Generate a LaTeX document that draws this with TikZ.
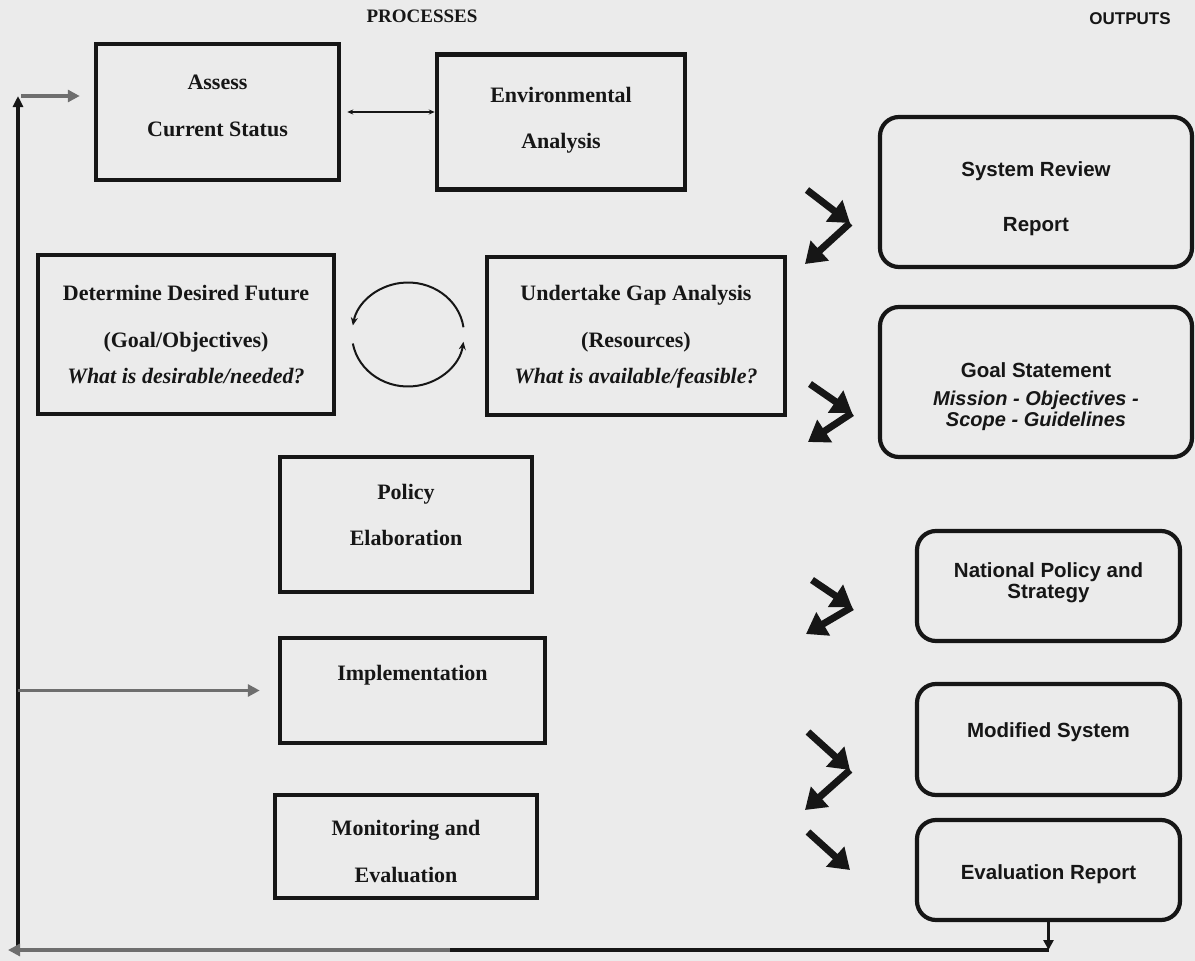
\documentclass[tikz,border=0pt]{standalone}
\usepackage{fontspec}
\setmainfont{Liberation Serif}
\setsansfont{Liberation Sans}
\usetikzlibrary{arrows.meta}

\definecolor{paper}{RGB}{235,235,235}
\definecolor{ink}{RGB}{22,22,22}
\definecolor{haze}{RGB}{110,110,110}

\begin{document}
\begin{tikzpicture}[x=1pt,y=-1pt,
  procbox/.style={draw=ink,line width=4.5pt,inner sep=0pt},
  outbox/.style={draw=ink,line width=4.2pt,rounded corners=19pt,inner sep=0pt},
  proctext/.style={inner sep=0pt,anchor=base,text=ink,font=\bfseries\fontsize{22}{26}\selectfont},
  outtext/.style={inner sep=0pt,anchor=base,text=ink,font=\sffamily\bfseries\fontsize{20.5}{24}\selectfont},
  bigarrow/.style={draw=ink,line width=7pt,-{Triangle[length=20pt,width=26pt]}},
  ringarrow/.style={draw=ink,line width=2pt,-{Stealth[length=8pt,width=7pt]}},
  loopline/.style={draw=ink,line width=3.5pt},
  greyarrow/.style={draw=haze,line width=3.5pt,-{Triangle[length=12pt,width=12pt]}}]
\path[use as bounding box,fill=paper] (0,0) rectangle (1195,961);
\node[proctext,font=\bfseries\fontsize{19}{22}\selectfont] (processes) at (422,22) {PROCESSES};
\node[outtext,font=\sffamily\bfseries\fontsize{17}{20}\selectfont] (outputs) at (1130,24) {OUTPUTS};
\node[procbox,minimum width=243pt,minimum height=136pt] (assess) at (217.5,112) {};
\node[proctext] (assess1) at (217.5,89) {Assess};
\node[proctext] (assess2) at (217.5,136) {Current Status};
\node[procbox,minimum width=248pt,minimum height=135pt] (environment) at (561,122) {};
\node[proctext] (environment1) at (561,102) {Environmental};
\node[proctext] (environment2) at (561,148) {Analysis};
\node[procbox,minimum width=296pt,minimum height=159pt] (desired) at (186,334.5) {};
\node[proctext] (desired1) at (186,300) {Determine Desired Future};
\node[proctext] (desired2) at (186,347) {(Goal/Objectives)};
\node[proctext,font=\bfseries\itshape\fontsize{22}{26}\selectfont] (desired3) at (186,383) {What is desirable/needed?};
\node[procbox,minimum width=298pt,minimum height=158pt] (gap) at (636,336) {};
\node[proctext] (gap1) at (636,300) {Undertake Gap Analysis};
\node[proctext] (gap2) at (636,347) {(Resources)};
\node[proctext,font=\bfseries\itshape\fontsize{22}{26}\selectfont] (gap3) at (636,383) {What is available/feasible?};
\node[procbox,minimum width=252pt,minimum height=135pt] (policy) at (406,524.5) {};
\node[proctext] (policy1) at (406,499) {Policy};
\node[proctext] (policy2) at (406,545) {Elaboration};
\node[procbox,minimum width=265pt,minimum height=105pt] (implement) at (412.5,690.5) {};
\node[proctext] (implement1) at (412.5,680) {Implementation};
\node[procbox,minimum width=262pt,minimum height=103pt] (monitor) at (406,846.5) {};
\node[proctext] (monitor1) at (406,835) {Monitoring and};
\node[proctext] (monitor2) at (406,882) {Evaluation};
\node[outbox,minimum width=312pt,minimum height=150pt] (review) at (1036,192) {};
\node[outtext] (review1) at (1036,176) {System Review};
\node[outtext] (review2) at (1036,231) {Report};
\node[outbox,minimum width=312pt,minimum height=150pt] (goal) at (1036,382) {};
\node[outtext] (goal1) at (1036,377) {Goal Statement};
\node[outtext,font=\sffamily\bfseries\itshape\fontsize{20}{24}\selectfont] (goal2) at (1036,405) {Mission - Objectives -};
\node[outtext,font=\sffamily\bfseries\itshape\fontsize{20}{24}\selectfont] (goal3) at (1036,426) {Scope - Guidelines};
\node[outbox,minimum width=263pt,minimum height=110pt] (national) at (1048.5,586) {};
\node[outtext] (national1) at (1048.5,577) {National Policy and};
\node[outtext] (national2) at (1048.5,598) {Strategy};
\node[outbox,minimum width=263pt,minimum height=111pt] (modified) at (1048.5,739.5) {};
\node[outtext] (modified1) at (1048.5,737) {Modified System};
\node[outbox,minimum width=263pt,minimum height=100pt] (evalreport) at (1048.5,870) {};
\node[outtext] (evalreport1) at (1048.5,879) {Evaluation Report};
\draw[ink,line width=1.5pt,{Stealth[length=6pt,width=5pt]}-{Stealth[length=6pt,width=5pt]},shorten <=6pt] (assess.east) -- (assess.east -| environment.west);
\coordinate (ringmid) at (408,334.5);
\draw[ringarrow] ([shift={(8:56pt and 52pt)}]ringmid) arc[start angle=8,end angle=170,x radius=56pt,y radius=52pt];
\draw[ringarrow] ([shift={(190:56pt and 52pt)}]ringmid) arc[start angle=190,end angle=352,x radius=56pt,y radius=52pt];
\coordinate (chevAtop) at (807,190);
\coordinate (chevAmid) at (850,223);
\coordinate (chevAend) at (805,264);
\coordinate (chevBtop) at (810,384);
\coordinate (chevBmid) at (852,413);
\coordinate (chevBend) at (808,442);
\coordinate (chevCtop) at (812,580);
\coordinate (chevCmid) at (852,607);
\coordinate (chevCend) at (806,634);
\coordinate (chevDtop) at (808,732);
\coordinate (chevDmid) at (850,770);
\coordinate (chevDend) at (805,810);
\coordinate (chevEtop) at (808,832);
\coordinate (chevEend) at (850,870);
\draw[bigarrow] (chevAtop) -- (chevAmid);
\draw[bigarrow] (chevAmid) -- (chevAend);
\draw[bigarrow] (chevBtop) -- (chevBmid);
\draw[bigarrow] (chevBmid) -- (chevBend);
\draw[bigarrow] (chevCtop) -- (chevCmid);
\draw[bigarrow] (chevCmid) -- (chevCend);
\draw[bigarrow] (chevDtop) -- (chevDmid);
\draw[bigarrow] (chevDmid) -- (chevDend);
\draw[bigarrow] (chevEtop) -- (chevEend);
\coordinate (loopbl) at (18,950);
\coordinate (looptl) at (18,96);
\coordinate (loopend) at (8,950);
\coordinate (loopbr) at (evalreport.south |- loopbl);
\draw[loopline,-{Triangle[length=11pt,width=10pt]}] (loopbl) -- (looptl);
\draw[greyarrow,shorten >=14pt] ([xshift=3pt]looptl) -- (looptl -| assess.west);
\draw[greyarrow,shorten >=18pt] (loopbl |- implement.west) -- (implement.west);
\draw[loopline,-{Triangle[length=10pt,width=10pt]}] (evalreport.south) -- (loopbr);
\draw[greyarrow] (loopbr) -- (loopend);
\draw[loopline] (loopbr) -- (450,950);
\end{tikzpicture}
\end{document}
